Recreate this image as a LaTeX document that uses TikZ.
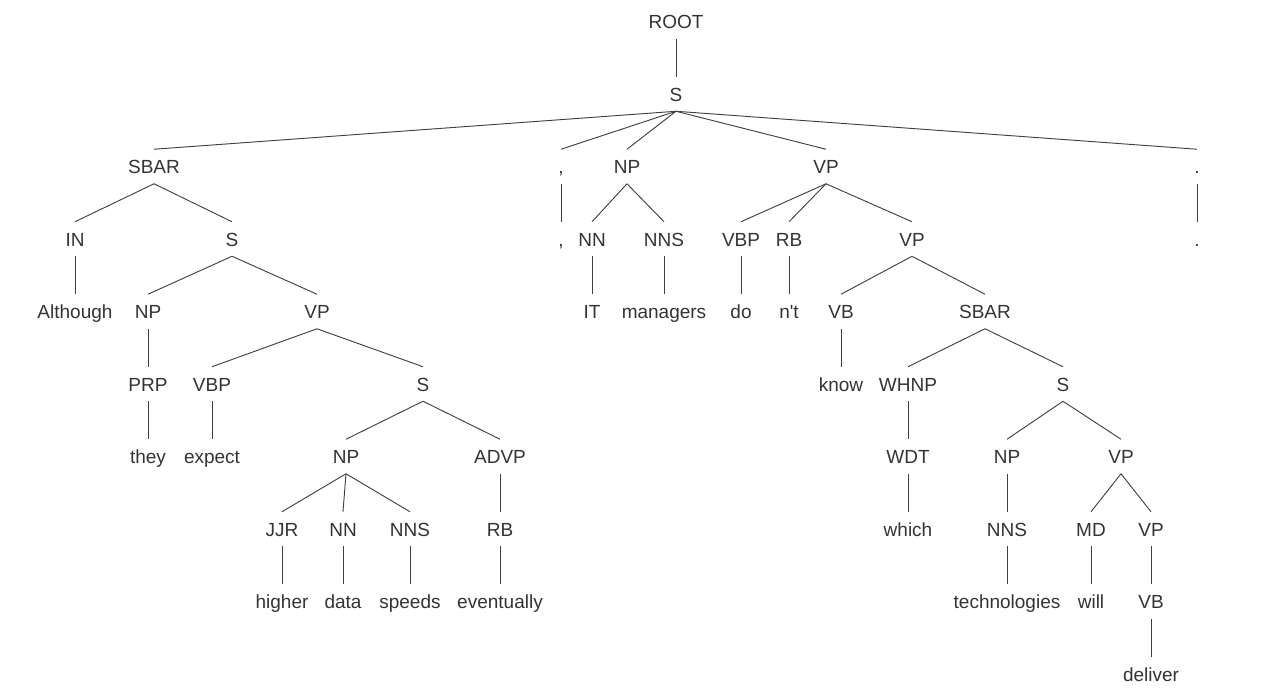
\documentclass[tikz,border=0pt]{standalone}
\usepackage{fontspec}
\setmainfont{Liberation Sans}
\usepackage{tikz}
\usetikzlibrary{positioning}

\tikzset{
  tag/.style={text height=13.9pt, text depth=3.4pt, inner ysep=4.1pt, inner xsep=0pt, text=black!80},
  branch/.style={draw=black!75, line width=0.7pt}
}

\begin{document}
\begin{tikzpicture}[x=0.75pt,y=-0.75pt,every node/.style={tag},font=\fontsize{14.25}{17}\selectfont]
  \useasboundingbox (0,0) rectangle (1270,690);
  % level 0 and 1
  \node (root) at (676,21.5) {ROOT};
  \node (s) at (676,94) {S};
  % level 2
  \node (sbar) at (154,166.5) {SBAR};
  \node (comma) at (561,166.5) {,};
  \node (np) at (627,166.5) {NP};
  \node (vp) at (826,166.5) {VP};
  \node (dot) at (1197,166.5) {.};
  % level 3
  \node (in) at (75,239) {IN};
  \node (s2) at (232,239) {S};
  \node (comma2) at (561,239) {,};
  \node (nn) at (592,239) {NN};
  \node (nns) at (664,239) {NNS};
  \node (vbp) at (741,239) {VBP};
  \node (rb) at (789,239) {RB};
  \node (vp2) at (912,239) {VP};
  \node (dot2) at (1197,239) {.};
  % level 4
  \node (although) at (75,311.5) {Although};
  \node (np2) at (148,311.5) {NP};
  \node (vp3) at (317,311.5) {VP};
  \node (it) at (592,311.5) {IT};
  \node (managers) at (664,311.5) {managers};
  \node (do) at (741,311.5) {do};
  \node (nt) at (789,311.5) {n\textquotesingle t};
  \node (vb) at (841,311.5) {VB};
  \node (sbar2) at (985,311.5) {SBAR};
  % level 5
  \node (prp) at (148,384) {PRP};
  \node (vbp2) at (212,384) {VBP};
  \node (s3) at (423,384) {S};
  \node (know) at (841,384) {know};
  \node (whnp) at (908,384) {WHNP};
  \node (s4) at (1063,384) {S};
  % level 6
  \node (they) at (148,456.5) {they};
  \node (expect) at (212,456.5) {expect};
  \node (np3) at (346,456.5) {NP};
  \node (advp) at (500,456.5) {ADVP};
  \node (wdt) at (908,456.5) {WDT};
  \node (np4) at (1007,456.5) {NP};
  \node (vp4) at (1121,456.5) {VP};
  % level 7
  \node (jjr) at (282,529) {JJR};
  \node (nn2) at (343,529) {NN};
  \node (nns2) at (410,529) {NNS};
  \node (rb2) at (500,529) {RB};
  \node (which) at (908,529) {which};
  \node (nns3) at (1007,529) {NNS};
  \node (md) at (1091,529) {MD};
  \node (vp5) at (1151,529) {VP};
  % level 8 and 9
  \node (higher) at (282,601.5) {higher};
  \node (data) at (343,601.5) {data};
  \node (speeds) at (410,601.5) {speeds};
  \node (eventually) at (500,601.5) {eventually};
  \node (technologies) at (1007,601.5) {technologies};
  \node (will) at (1091,601.5) {will};
  \node (vb2) at (1151,601.5) {VB};
  \node (deliver) at (1151,674) {deliver};
  % branches
  \foreach \a/\b in {root/s, s/sbar, s/comma, s/np, s/vp, s/dot,
      sbar/in, sbar/s2, comma/comma2, np/nn, np/nns, vp/vbp, vp/rb, vp/vp2, dot/dot2,
      in/although, s2/np2, s2/vp3, nn/it, nns/managers, vbp/do, rb/nt, vp2/vb, vp2/sbar2,
      np2/prp, vp3/vbp2, vp3/s3, vb/know, sbar2/whnp, sbar2/s4,
      prp/they, vbp2/expect, s3/np3, s3/advp, whnp/wdt, s4/np4, s4/vp4,
      np3/jjr, np3/nn2, np3/nns2, advp/rb2, wdt/which, np4/nns3, vp4/md, vp4/vp5,
      jjr/higher, nn2/data, nns2/speeds, rb2/eventually, nns3/technologies, md/will, vp5/vb2,
      vb2/deliver}
    \draw[branch] (\a.south) -- (\b.north);
\end{tikzpicture}
\end{document}
